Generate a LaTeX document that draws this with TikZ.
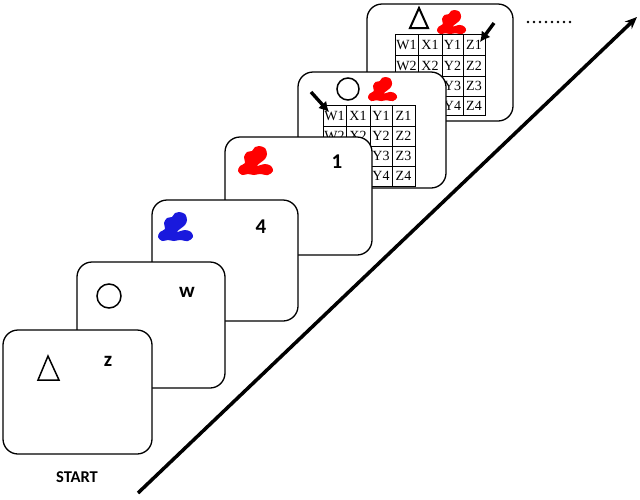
\documentclass[tikz,border=0pt]{standalone}
\usepackage{fontspec}
\setmainfont{Liberation Serif}
\newfontfamily\carlito{Carlito}
\usetikzlibrary{arrows.meta}
\tikzset{
  card/.style={draw=black, fill=white, line width=1.3pt, rounded corners=15pt},
  cell/.style={draw=black, line width=1pt},
  celltxt/.style={inner sep=0pt, font=\fontsize{14}{14}\selectfont},
  bigtxt/.style={inner sep=0pt, font=\carlito\bfseries\fontsize{21}{21}\selectfont},
  shapeline/.style={draw=black, line width=1.5pt},
  pointer/.style={line width=3.4pt, -{Latex[length=10pt,width=11pt]}},
}
\newcommand{\myblob}[4]{% x, y, scale, colour
  \fill[#4, shift={(#1,#2)}, scale=#3] plot[smooth cycle, tension=0.55] coordinates {
    (21,0) (27,2) (29,8) (27,13) (22,17) (19,20) (27,18) (33,20) (35,25) (30,29)
    (22,28) (16,29) (10,28) (4,29) (0,25) (2,20) (7,17) (6,11) (9,6) (14,5) (17,1)};
}
\begin{document}
\begin{tikzpicture}[x=1pt,y=-1pt]
\useasboundingbox (0,0) rectangle (640,499);
\fill[white] (0,0) rectangle (640,499);

% ---- card 6
\draw[card] (367,4) rectangle (513,121);
\draw[shapeline, line width=2pt, line join=miter] (419,8) -- (428,28) -- (410,28) -- cycle;
\myblob{437}{10}{0.83}{red}
\foreach \c/\xa/\xb [count=\i] in {W/395/418, X/418/442, Y/442/463, Z/463/485}{
  \foreach \ya/\yb [count=\j] in {34/55, 55/76, 76/96, 96/115}{
    \draw[cell] (\xa,\ya) rectangle (\xb,\yb);
    \node[celltxt] (gsix-\i-\j) at ({(\xa+\xb)/2},{(\ya+\yb)/2}) {\c\j};
  }
}
\coordinate (psixa) at (494,23);
\coordinate (psixb) at (480,42);
\draw[pointer] (psixa) -- (psixb);

% ---- card 5
\draw[card] (298,72) rectangle (446,188);
\draw[shapeline] (348,89) circle (11);
\myblob{368}{77}{0.83}{red}
\foreach \c/\xa/\xb [count=\i] in {W/323/346, X/346/370, Y/370/392, Z/392/415}{
  \foreach \ya/\yb [count=\j] in {105/126, 126/146, 146/166, 166/186}{
    \draw[cell] (\xa,\ya) rectangle (\xb,\yb);
    \node[celltxt] (gfive-\i-\j) at ({(\xa+\xb)/2},{(\ya+\yb)/2}) {\c\j};
  }
}
\coordinate (pfivea) at (311,92);
\coordinate (pfiveb) at (329,112);
\draw[pointer] (pfivea) -- (pfiveb);

% ---- card 4
\draw[card] (225,137) rectangle (372,255);
\myblob{238}{146}{1}{red}
\node[bigtxt] (one) at (337,162) {1};

% ---- card 3
\draw[card] (152,200) rectangle (298,321);
\myblob{158}{212}{1}{blue!85!black!90!white}
\node[bigtxt] (four) at (261,227) {4};

% ---- card 2
\draw[card] (77,262) rectangle (225,388);
\draw[shapeline] (109,296) circle (12);
\node[bigtxt] (w) at (187,292) {w};

% ---- card 1
\draw[card] (3,330) rectangle (152,454);
\draw[shapeline, line join=miter] (48,356) -- (59,380) -- (38,380) -- cycle;
\node[bigtxt] (z) at (108,361) {z};
\node[inner sep=0pt, font=\carlito\bfseries\fontsize{16.5}{16.5}\selectfont] (start) at (77,477) {START};

% ---- dots
\foreach \k in {0,...,7}{ \fill (528+6*\k,22) circle (1.3); }

% ---- time arrow
\coordinate (tstart) at (138,493);
\coordinate (tend) at (637,17);
\draw[line width=3.5pt, -{Stealth[length=12pt,width=10pt]}] (tstart) -- (tend);
\end{tikzpicture}
\end{document}
